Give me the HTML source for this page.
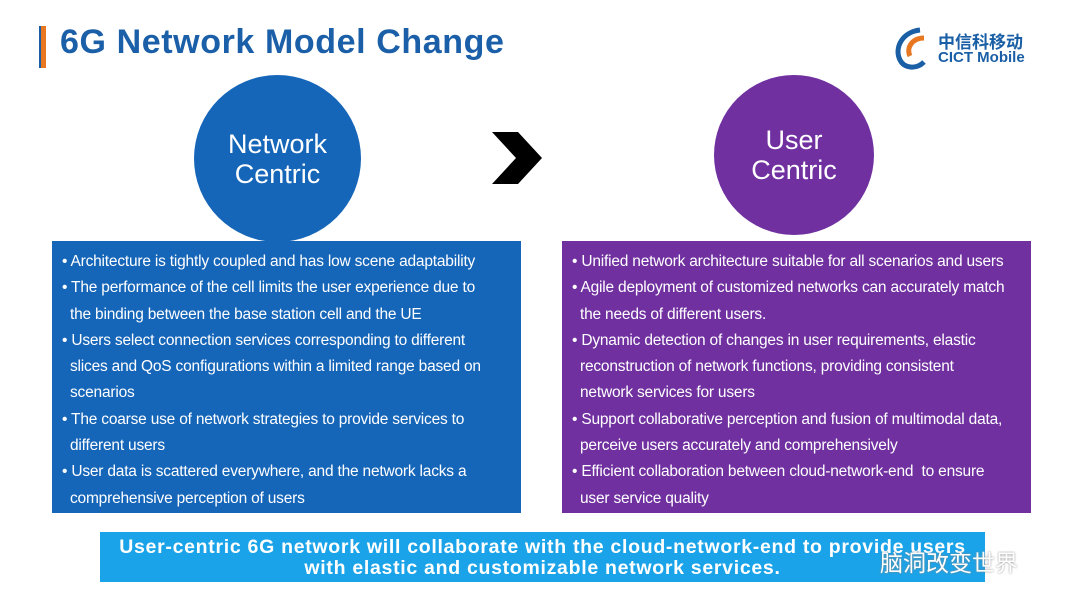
<!DOCTYPE html>
<html><head><meta charset="utf-8"><style>
body{margin:0;width:1080px;height:608px;background:#fff;position:relative;overflow:hidden;font-family:"Liberation Sans","Noto Sans CJK SC",sans-serif}
.abs{position:absolute}
.title{left:60px;top:23px;font-size:34px;font-weight:bold;color:#1b5fa8;letter-spacing:0.6px}
.bar{left:39px;top:26px;width:5px;height:42px;background:#e87722;border-left:2px solid #1a5fa6}
.circ{border-radius:50%;color:#fff;display:flex;align-items:center;justify-content:center;text-align:center;font-size:27px;line-height:30px}
.box{color:#fff;font-size:15.5px;line-height:26.3px;padding:8px 0 0 10px;box-sizing:border-box;white-space:nowrap;letter-spacing:-0.2px}
.box div{padding-left:8px}
.box div.b{padding-left:0}
</style></head><body>
<div class="abs bar"></div>
<div class="abs title">6G Network Model Change</div>
<div class="abs" style="left:890px;top:26px;width:44px;height:44px">
<svg width="44" height="44"><path d="M30 4 C12 6 4 22 10 34 C14 42 26 44 34 36" stroke="#1a5fa6" stroke-width="5" fill="none"/><path d="M34 12 C22 12 16 22 20 30" stroke="#e87722" stroke-width="5" fill="none"/></svg></div>
<div class="abs" style="left:938px;top:28px;font-size:17px;font-weight:bold;color:#1a5fa6">中信科移动</div>
<div class="abs" style="left:938px;top:49px;font-size:15px;font-weight:bold;color:#1a5fa6">CICT Mobile</div>
<div class="abs circ" style="left:194px;top:75px;width:167px;height:167px;background:#1565b8">Network<br>Centric</div>
<div class="abs circ" style="left:714px;top:75px;width:160px;height:160px;background:#7030a0">User<br>Centric</div>
<svg class="abs" style="left:490px;top:132px" width="54" height="52"><polygon points="2,0 28,0 52,26 28,52 2,52 26,26" fill="#000"/></svg>
<div class="abs box" style="left:52px;top:241px;width:469px;height:272px;background:#1565b8">
<div class="b">• Architecture is tightly coupled and has low scene adaptability</div>
<div class="b">• The performance of the cell limits the user experience due to</div>
<div>the binding between the base station cell and the UE</div>
<div class="b">• Users select connection services corresponding to different</div>
<div>slices and QoS configurations within a limited range based on</div>
<div>scenarios</div>
<div class="b">• The coarse use of network strategies to provide services to</div>
<div>different users</div>
<div class="b">• User data is scattered everywhere, and the network lacks a</div>
<div>comprehensive perception of users</div>
</div>
<div class="abs box" style="left:562px;top:241px;width:469px;height:272px;background:#7030a0">
<div class="b">• Unified network architecture suitable for all scenarios and users</div>
<div class="b">• Agile deployment of customized networks can accurately match</div>
<div>the needs of different users.</div>
<div class="b">• Dynamic detection of changes in user requirements, elastic</div>
<div>reconstruction of network functions, providing consistent</div>
<div>network services for users</div>
<div class="b">• Support collaborative perception and fusion of multimodal data,</div>
<div>perceive users accurately and comprehensively</div>
<div class="b">• Efficient collaboration between cloud-network-end&nbsp; to ensure</div>
<div>user service quality</div>
</div>
<div class="abs" style="left:100px;top:532px;width:885px;height:50px;background:#1aa3e8;color:#fff;font-weight:bold;font-size:19.5px;line-height:21px;text-align:center;padding-top:5px;box-sizing:border-box;letter-spacing:0.7px;white-space:nowrap">User-centric 6G network will collaborate with the cloud-network-end to provide users<br>with elastic and customizable network services.</div>
<div class="abs" style="left:880px;top:544px;font-size:23px;color:#fff;text-shadow:0 0 2px #888">脑洞改变世界</div>
</body></html>
